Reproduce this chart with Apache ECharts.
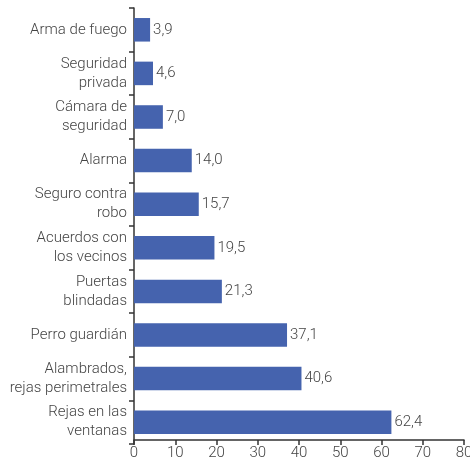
<!DOCTYPE html>
<html>
<head>
<meta charset="utf-8">
<script src="https://cdn.jsdelivr.net/npm/echarts@6/dist/echarts.min.js"></script>
<style>
  html, body { margin: 0; padding: 0; background: #fff; }
  #chart { width: 470px; height: 467px; }
</style>
</head>
<body>
<div id="chart"></div>
<script>
const categories = [
  'Arma de fuego',
  'Seguridad\nprivada',
  'Cámara de\nseguridad',
  'Alarma',
  'Seguro contra\nrobo',
  'Acuerdos con\nlos vecinos',
  'Puertas\nblindadas',
  'Perro guardián',
  'Alambrados,\nrejas perimetrales',
  'Rejas en las\nventanas'
]
const values = [3.9, 4.6, 7.0, 14.0, 15.7, 19.5, 21.3, 37.1, 40.6, 62.4]
const xTicks = { min: 0, max: 80, interval: 10 }

const textColor = '#444'
const fontFamily = 'Roboto'

const chart = echarts.init(document.getElementById('chart'))
chart.setOption({
  animation: false,
  grid: { left: 134, right: 6, top: 8, bottom: 23, containLabel: false, outerBoundsMode: 'none' },
  xAxis: {
    type: 'value',
    min: xTicks.min,
    max: xTicks.max,
    interval: xTicks.interval,
    offset: -4,
    splitLine: { show: false },
    axisLine: { show: true, lineStyle: { color: '#333', width: 1.5 } },
    axisTick: { show: true, length: 5, lineStyle: { color: '#333', width: 1.5 } },
    axisLabel: {
      color: textColor,
      fontFamily: fontFamily,
      fontWeight: 300,
      fontSize: 15,
      margin: 6
    }
  },
  yAxis: {
    type: 'category',
    inverse: true,
    data: categories,
    axisLine: { show: true, lineStyle: { color: '#333', width: 1.5 } },
    axisTick: { show: true, length: 5, alignWithLabel: false, lineStyle: { color: '#333', width: 1.5 } },
    axisLabel: {
      color: textColor,
      fontFamily: fontFamily,
      fontWeight: 300,
      fontSize: 15,
      lineHeight: 19,
      align: 'right',
      margin: 7
    }
  },
  series: [
    {
      type: 'bar',
      data: values,
      barWidth: '54%',
      itemStyle: { color: '#4563ae' },
      label: {
        show: true,
        position: 'right',
        distance: 3,
        color: textColor,
        fontFamily: fontFamily,
        fontWeight: 300,
        fontSize: 15,
        formatter: (p) => p.value.toFixed(1).replace('.', ',')
      }
    }
  ]
})
</script>
</body>
</html>
